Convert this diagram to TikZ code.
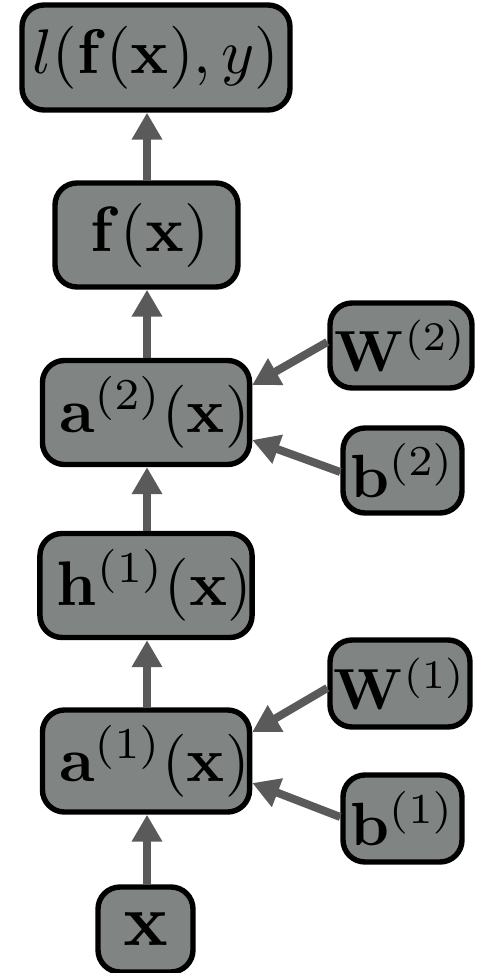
\documentclass[tikz,border=0pt]{standalone}
\usepackage{amsmath}
\usepackage{graphicx}
\usetikzlibrary{arrows.meta}
\definecolor{boxfill}{RGB}{128,132,130}
\definecolor{arrowgray}{RGB}{90,90,90}
\newcommand{\btxt}[2][3.15]{\scalebox{#1}{$#2$}}
\begin{document}
\begin{tikzpicture}[x=0.5pt,y=-0.5pt,
  box/.style={draw=black,fill=boxfill,line width=2.7pt,rounded corners=11pt,inner sep=0pt},
  conn/.style={draw=arrowgray,line width=4pt,-{Triangle[length=13.5pt,width=14.5pt]}}]
\useasboundingbox (0,0) rectangle (479,973);
\node[box,minimum width=134pt,minimum height=52.5pt] (l) at (156,57.5) {\btxt{l(\mathbf{f}(\mathbf{x}),y)}};
\node[box,minimum width=91.5pt,minimum height=52pt] (f) at (146.5,235) {\hspace*{3.5pt}\btxt[3.2]{\mathbf{f}(\mathbf{x})}};
\node[box,minimum width=101pt,minimum height=52pt] (a2) at (146,412.5) {\hspace*{8.5pt}\btxt{\mathbf{a}^{(2)}(\mathbf{x})}};
\node[box,minimum width=71pt,minimum height=42.5pt] (W2) at (401,345.5) {\btxt[2.9]{\mathbf{W}^{(2)}}};
\node[box,minimum width=59.5pt,minimum height=42.5pt] (b2) at (402.5,470.5) {\btxt[3.05]{\mathbf{b}^{(2)}}};
\node[box,minimum width=101pt,minimum height=52pt] (h1) at (146,585.5) {\hspace*{8.5pt}\btxt{\mathbf{h}^{(1)}(\mathbf{x})}};
\node[box,minimum width=101pt,minimum height=51pt] (a1) at (146,761) {\hspace*{8.5pt}\btxt{\mathbf{a}^{(1)}(\mathbf{x})}};
\node[box,minimum width=70pt,minimum height=43.5pt] (W1) at (400,683.5) {\btxt[2.9]{\mathbf{W}^{(1)}}};
\node[box,minimum width=59.5pt,minimum height=43.5pt] (b1) at (402.5,818.5) {\btxt[3.05]{\mathbf{b}^{(1)}}};
\node[box,minimum width=47.5pt,minimum height=42.5pt] (x) at (145.5,929.5) {\btxt[3.7]{\mathbf{x}}};
\coordinate (vx) at (147,0);
\draw[conn] (x.north -| vx) -- (a1.south -| vx);
\draw[conn] (a1.north -| vx) -- (h1.south -| vx);
\draw[conn] (h1.north -| vx) -- (a2.south -| vx);
\draw[conn] (a2.north -| vx) -- (f.south -| vx);
\draw[conn] (f.north -| vx) -- (l.south -| vx);
\draw[conn] ([yshift=1.75pt]W2.west) -- ([yshift=13.75pt]a2.east);
\draw[conn] ([yshift=-0.75pt]b2.west) -- ([yshift=-13.75pt]a2.east);
\draw[conn] ([yshift=-2.25pt]W1.west) -- ([yshift=14.5pt]a1.east);
\draw[conn] ([yshift=0.75pt]b1.west) -- ([yshift=-11pt]a1.east);
\end{tikzpicture}
\end{document}
